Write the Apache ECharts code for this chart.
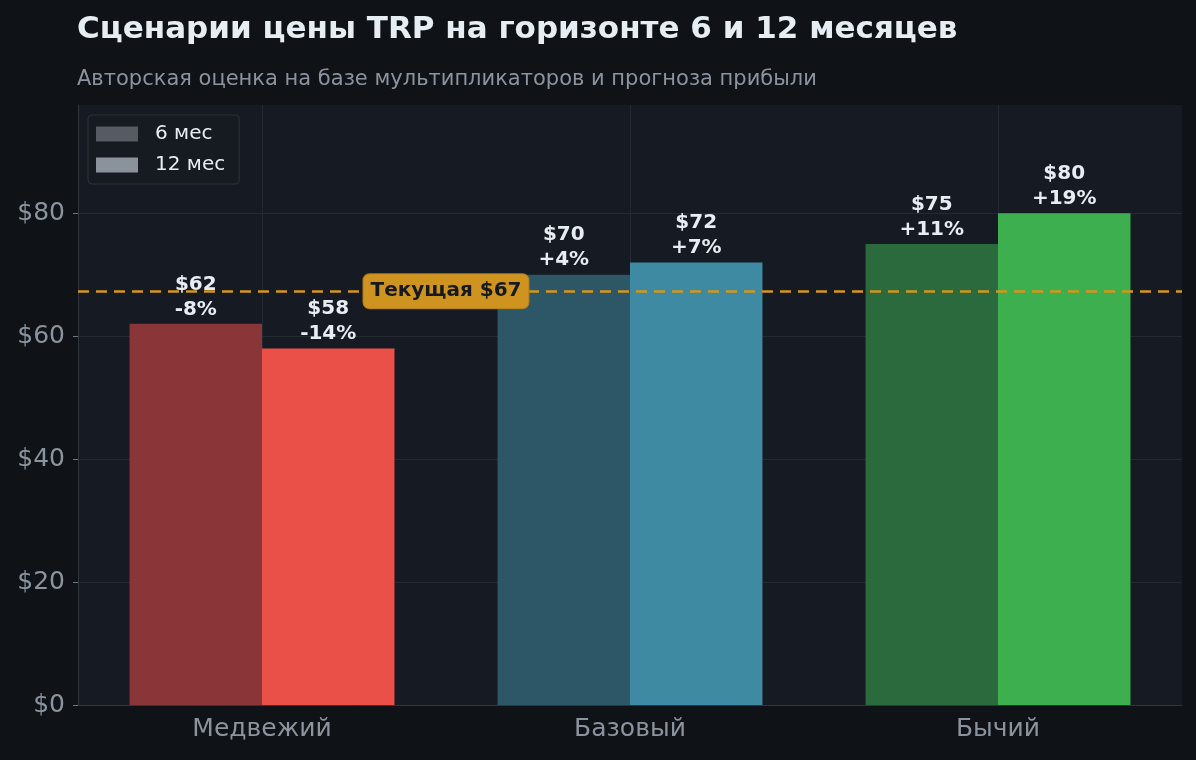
<!DOCTYPE html>
<html>
<head>
<meta charset="utf-8">
<script src="https://cdn.jsdelivr.net/npm/echarts@6/dist/echarts.min.js"></script>
<style>
  html, body { margin: 0; padding: 0; background: #0f1317; }
  #chart { width: 1196px; height: 760px; }
</style>
</head>
<body>
<div id="chart"></div>
<script>
var scenarios = ['Медвежий', 'Базовый', 'Бычий'];
var price6m = [62, 70, 75];
var price12m = [58, 72, 80];
var currentPrice = 67.3;
var colors6m = ['#8a3639', '#2d5666', '#2b6a3d'];
var colors12m = ['#ea4f48', '#3d8aa2', '#3daf4e'];
var yTicks = [0, 20, 40, 60, 80];

var FONT = 'DejaVu Sans';

function pct(v) {
    var p = Math.round((v / currentPrice - 1) * 100);
    return (p > 0 ? '+' : '') + p + '%';
}

function barData(values, cols) {
    return values.map(function (v, i) {
        return { value: v, itemStyle: { color: cols[i] } };
    });
}

var barLabel = {
    show: true,
    position: 'top',
    distance: 2,
    color: '#e6edf3',
    fontFamily: FONT,
    fontWeight: 'bold',
    fontSize: 20,
    lineHeight: 25,
    formatter: function (p) { return '$' + p.value + '\n' + pct(p.value); }
};

var myChart = echarts.init(document.getElementById('chart'));
var option = {
    backgroundColor: '#0f1317',
    animation: false,
    textStyle: { fontFamily: FONT },
    title: {
        text: 'Сценарии цены TRP на горизонте 6 и 12 месяцев',
        subtext: 'Авторская оценка на базе мультипликаторов и прогноза прибыли',
        left: 72,
        top: 9,
        itemGap: 24,
        textStyle: { color: '#e6edf3', fontSize: 31, fontWeight: 'bold', fontFamily: FONT },
        subtextStyle: { color: '#8b949e', fontSize: 21, fontFamily: FONT }
    },
    legend: {
        orient: 'vertical',
        left: 88,
        top: 115,
        padding: [9, 14, 9, 8],
        itemGap: 11,
        itemWidth: 42,
        itemHeight: 15,
        icon: 'rect',
        backgroundColor: '#161b22',
        borderColor: '#2d333b',
        borderWidth: 1,
        borderRadius: 4,
        textStyle: { color: '#e6edf3', fontSize: 20, fontFamily: FONT, padding: [0, 0, 0, 12] },
        data: [
            { name: '6 мес', itemStyle: { color: '#555a63' } },
            { name: '12 мес', itemStyle: { color: '#8a929c' } }
        ]
    },
    grid: {
        left: 78, right: 14, top: 105, bottom: 55,
        show: true, backgroundColor: '#161a22', borderWidth: 0
    },
    xAxis: {
        type: 'category',
        data: scenarios,
        axisLine: { lineStyle: { color: '#30363d' } },
        axisTick: { alignWithLabel: true, length: 5, lineStyle: { color: '#6e7681' } },
        axisLabel: { color: '#8b949e', fontSize: 25, margin: 12 },
        splitLine: { show: false }
    },
    yAxis: {
        type: 'value',
        min: 0,
        max: 97.6,
        interval: 20,
        axisLine: { show: true, lineStyle: { color: '#30363d' } },
        axisTick: { show: true, length: 5, customValues: yTicks, lineStyle: { color: '#6e7681' } },
        axisLabel: {
            color: '#8b949e', fontSize: 25, margin: 13,
            customValues: yTicks,
            formatter: function (v) { return '$' + v; }
        },
        splitLine: { lineStyle: { color: '#252a32' } }
    },
    series: [
        {
            name: '6 мес',
            type: 'bar',
            z: 3,
            data: barData(price6m, colors6m),
            barGap: '0%',
            barCategoryGap: '28%',
            label: barLabel
        },
        {
            name: '12 мес',
            type: 'bar',
            z: 3,
            data: barData(price12m, colors12m),
            label: barLabel
        },
        {
            name: 'grid-x',
            type: 'line',
            data: [],
            z: 0,
            markLine: {
                silent: true,
                symbol: 'none',
                z: 0,
                label: { show: false },
                lineStyle: { color: '#252a32', type: 'solid', width: 1 },
                data: scenarios.map(function (s) { return { xAxis: s }; })
            }
        },
        {
            name: 'current',
            type: 'line',
            data: [],
            z: 5,
            markLine: {
                silent: true,
                symbol: 'none',
                z: 5,
                label: { show: false },
                lineStyle: { color: '#d4961e', type: [11, 7], width: 2.5, opacity: 1 },
                data: [{ yAxis: currentPrice }]
            }
        }
    ]
};
myChart.setOption(option);

// current price tag between first and second category
var p0 = myChart.convertToPixel({ gridIndex: 0 }, [0, currentPrice]);
var p1 = myChart.convertToPixel({ gridIndex: 0 }, [1, currentPrice]);
myChart.setOption({
    graphic: [{
        type: 'text',
        x: (p0[0] + p1[0]) / 2,
        y: p0[1],
        z: 100,
        style: {
            text: 'Текущая $' + Math.round(currentPrice),
            fill: '#161a20',
            font: 'bold 20px "DejaVu Sans"',
            align: 'center',
            verticalAlign: 'middle',
            backgroundColor: '#cf9420',
            borderColor: '#b07d18',
            borderWidth: 1,
            borderRadius: 6,
            padding: [7, 7, 7, 7]
        }
    }]
});
</script>
</body>
</html>
